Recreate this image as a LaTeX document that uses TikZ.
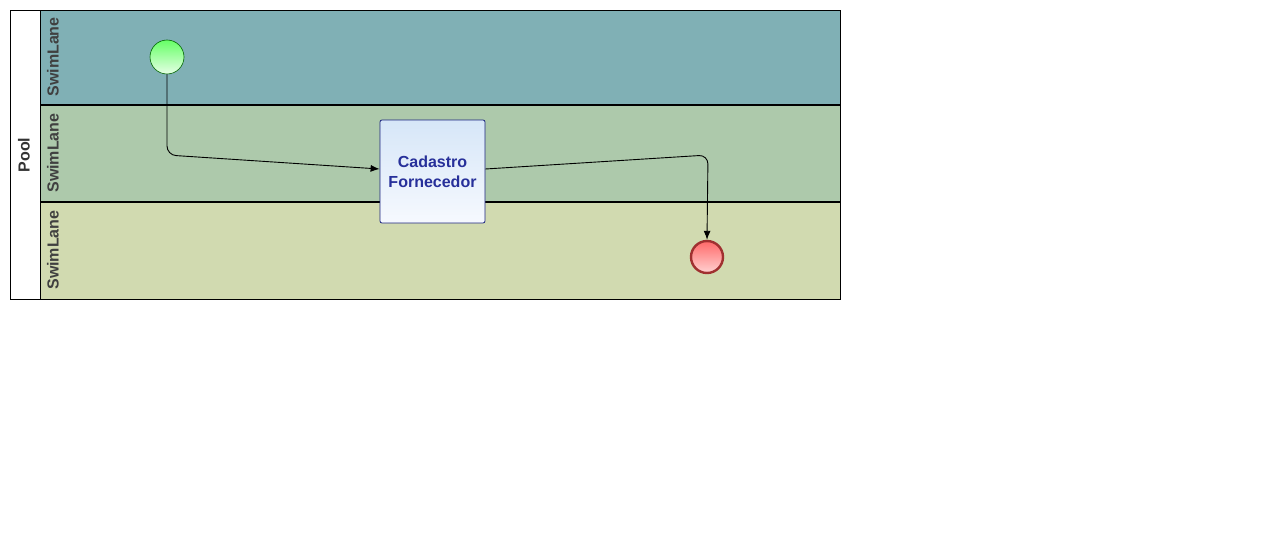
\documentclass[tikz,border=0pt]{standalone}
\usepackage{fontspec}
\setmainfont{Liberation Sans}
\usetikzlibrary{arrows.meta}
\definecolor{laneA}{HTML}{80B0B5}
\definecolor{laneB}{HTML}{ADC9AB}
\definecolor{laneC}{HTML}{D1DAB0}
\definecolor{lanetext}{HTML}{404040}
\definecolor{taskborder}{HTML}{1A237E}
\definecolor{tasktext}{HTML}{27309A}
\definecolor{endborder}{HTML}{A03030}
\tikzset{
  lanelabel/.style={rotate=90, font=\bfseries\fontsize{16pt}{18pt}\selectfont, text=lanetext},
  edge/.style={draw=black, line width=0.9pt, rounded corners=9pt, -{Latex[length=9pt,width=7pt]}},
}
\begin{document}
\begin{tikzpicture}[x=1pt,y=-1pt]
\useasboundingbox (0,0) rectangle (1283,554);
\fill[white] (0,0) rectangle (1283,554);
% lanes
\fill[laneA] (40,10) rectangle (840,105);
\fill[laneB] (40,105) rectangle (840,202);
\fill[laneC] (40,202) rectangle (840,299);
\draw[line width=1.8pt] (40,105) -- (840,105);
\draw[line width=1.8pt] (40,202) -- (840,202);
\draw[line width=0.9pt] (10,10) rectangle (840,299);
\draw[line width=0.9pt] (40,10) -- (40,299);
\node[lanelabel] (l1) at (53,57) {SwimLane};
\node[lanelabel] (l2) at (53,153) {SwimLane};
\node[lanelabel] (l3) at (53,250) {SwimLane};
\node[rotate=90, font=\bfseries\fontsize{16pt}{18pt}\selectfont, text=black!80] (pool) at (24,155) {Pool};
% start event
\node[circle, minimum size=34pt, inner sep=0pt, draw=green!40!black, line width=0.6pt,
  top color=green!60!white, bottom color=green!10!white] (start) at (167,57) {};
% task
\node[rectangle, rounded corners=2pt, minimum width=105pt, minimum height=103pt, draw=taskborder, line width=0.8pt,
  top color={rgb,255:red,214;green,230;blue,248}, bottom color={rgb,255:red,246;green,249;blue,254},
  align=center, text=tasktext, font=\bfseries\fontsize{16pt}{20pt}\selectfont] (task) at (432.5,171.5) {Cadastro\\Fornecedor};
% end event
\node[circle, minimum size=32pt, inner sep=0pt, draw=endborder, line width=2.4pt,
  top color={rgb,255:red,255;green,105;blue,105}, bottom color={rgb,255:red,255;green,210;blue,210}] (end) at (707,257) {};
% edges
\coordinate (c1) at (167,155);
\coordinate (c2) at (708,155);
\draw[edge] (start.south) -- (c1) -- (task.west |- 0,169);
\draw[edge] (task.east |- 0,169) -- (c2) -- (end.north);
\end{tikzpicture}
\end{document}
